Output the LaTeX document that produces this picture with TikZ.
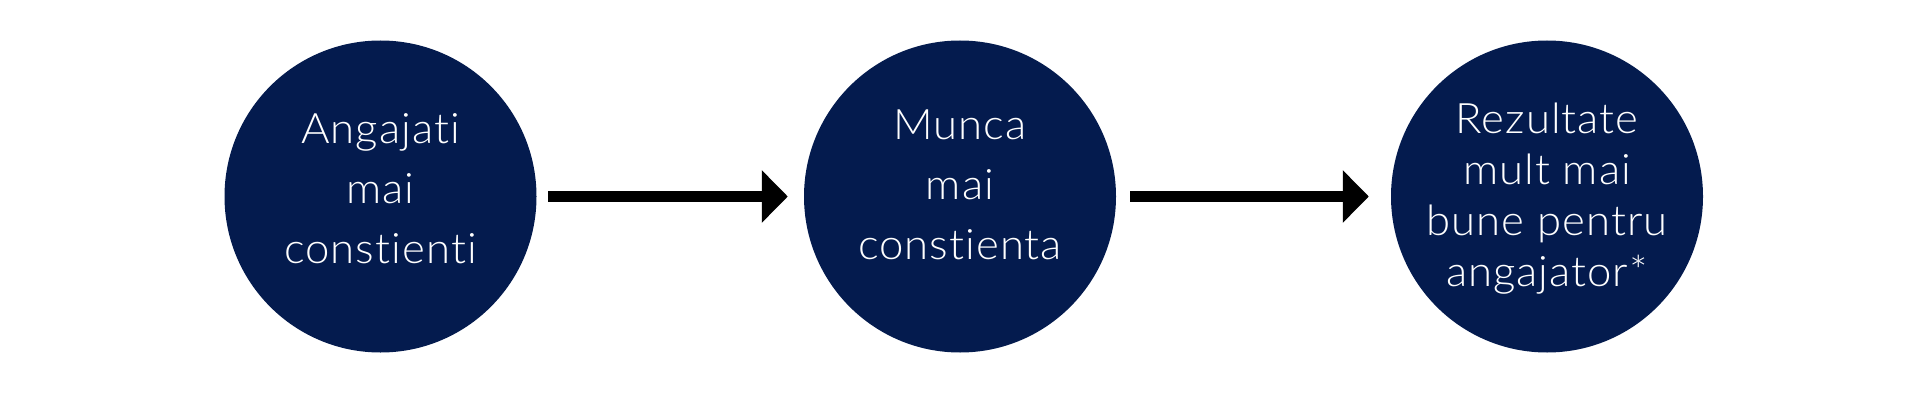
\documentclass[tikz,border=0pt]{standalone}
\usepackage{fontspec}
\IfFontExistsTF{Lato Light}{\setmainfont[Ligatures={NoCommon},LetterSpace=2.5,FakeStretch=1.04]{Lato Light}}{\setmainfont[Ligatures={NoCommon},LetterSpace=2.5,FakeStretch=1.04]{Lato}}
\usetikzlibrary{arrows.meta,calc}
\definecolor{navy}{RGB}{4,27,78}
\tikzset{
  circ/.style={circle,fill=navy,draw=none,minimum size=312pt,inner sep=0pt},
  txt/.style={text=white,align=center,font=\fontsize{42}{60}\selectfont,inner sep=0pt},
  txtb/.style={text=white,align=center,font=\fontsize{42}{51}\selectfont,inner sep=0pt},
  conn/.style={line width=11pt,black,-{Triangle[length=26pt,width=51pt]}}
}
\begin{document}
\begin{tikzpicture}[x=1pt,y=1pt]
\useasboundingbox (0,0) rectangle (1920,400);
\node[circ] (c1) at (380.5,203.5) {};
\node[circ] (c2) at (960,203.5) {};
\node[circ] (c3) at (1547,203.5) {};
\node[txt] (t1) at ($(c1.center)+(0,8)$) {Angajati\\mai\\constienti};
\node[txt] (t2) at ($(c2.center)+(0,12)$) {Munca\\mai\\constienta};
\node[txtb] (t3) at ($(c3.center)+(0,-2)$) {Rezultate\\mult mai\\bune pentru\\angajator*};
\draw[conn,shorten <=11.5pt,shorten >=16pt] (c1.east) -- (c2.west);
\draw[conn,shorten <=14pt,shorten >=22pt] (c2.east) -- (c3.west);
\end{tikzpicture}
\end{document}
